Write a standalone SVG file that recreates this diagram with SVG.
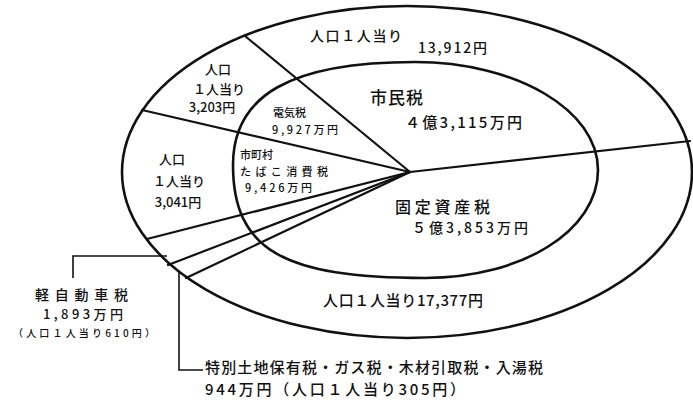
<svg xmlns="http://www.w3.org/2000/svg" width="693" height="407" viewBox="0 0 693 407">
<style>
.bg{fill:#ffffff}
.ring{fill:none;stroke:#111;stroke-width:2.6}
.div{fill:none;stroke:#111;stroke-width:2.2;stroke-linecap:round}
.lead{fill:none;stroke:#111;stroke-width:1.6}
text{font-family:"Noto Sans CJK JP","Noto Sans CJK SC",sans-serif;fill:#111;font-weight:500}
.m{text-anchor:middle}
</style>
<rect class="bg" x="0" y="0" width="693" height="407"/>
<g id="rings">
<ellipse id="outer" class="ring" cx="407" cy="172" rx="285" ry="166"/>
<path id="inner" class="ring" d="M233,165 C233,95 291,62 415,62 C516,62 598,110 598,170 C598,230 523,278 425,278 C284,278 233,250 233,165 Z"/>
</g>
<g id="connectors">
<line class="div" x1="410" y1="172" x2="245" y2="36"/>
<line class="div" x1="410" y1="172" x2="142" y2="110"/>
<line class="div" x1="410" y1="172" x2="147" y2="239"/>
<line class="div" x1="410" y1="172" x2="168" y2="265"/>
<line class="div" x1="410" y1="172" x2="186" y2="278"/>
<line class="div" x1="410" y1="172" x2="690" y2="141"/>
<polyline class="lead" points="167,256 73,256 73,278"/>
<polyline class="lead" points="179,272 179,370 203,370"/>
</g>
<g id="node-outer-top">
<text x="310" y="41" font-size="14" textLength="92">人口１人当り</text>
<text x="418" y="53" font-size="14" textLength="69">13,912円</text>
</g>
<g id="node-outer-left1">
<text class="m" x="218" y="74" font-size="13">人口</text>
<text class="m" x="219" y="94" font-size="13">１人当り</text>
<text class="m" x="212" y="112" font-size="13">3,203円</text>
</g>
<g id="node-outer-left2">
<text class="m" x="172" y="164" font-size="13">人口</text>
<text class="m" x="179" y="186" font-size="13">１人当り</text>
<text class="m" x="178" y="207" font-size="13">3,041円</text>
</g>
<g id="node-denki">
<text x="273" y="117" font-size="11">電気税</text>
<text x="272" y="134" font-size="11" textLength="66">9,927万円</text>
</g>
<g id="node-tabako">
<text x="240" y="159" font-size="11">市町村</text>
<text x="240" y="176" font-size="11" textLength="88">たばこ消費税</text>
<text x="245" y="192" font-size="11" textLength="67">9,426万円</text>
</g>
<g id="node-shimin">
<text x="370" y="104" font-size="17" textLength="53">市民税</text>
<text x="405" y="128" font-size="15" textLength="117">４億3,115万円</text>
</g>
<g id="node-kotei">
<text x="395" y="213" font-size="16" textLength="95">固定資産税</text>
<text x="412" y="233" font-size="14" textLength="116">５億3,853万円</text>
</g>
<g id="node-outer-bottom">
<text x="323" y="306" font-size="15" textLength="160">人口１人当り17,377円</text>
</g>
<g id="node-kei">
<text x="35" y="300" font-size="14" textLength="93">軽自動車税</text>
<text x="43" y="319" font-size="13" textLength="80">1,893万円</text>
<text x="13" y="337" font-size="10" textLength="142">（人口１人当り610円）</text>
</g>
<g id="node-tokubetsu">
<text x="205" y="373" font-size="15" textLength="338">特別土地保有税・ガス税・木材引取税・入湯税</text>
<text x="205" y="395" font-size="15" textLength="260">944万円（人口１人当り305円）</text>
</g>
</svg>
